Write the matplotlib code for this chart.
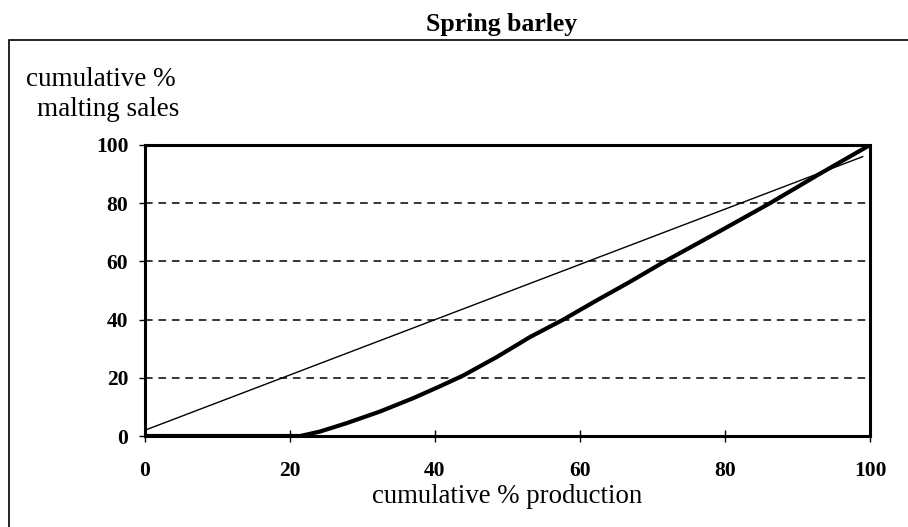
import numpy as np
import matplotlib.pyplot as plt
from matplotlib.patches import Rectangle

# cumulative % production vs cumulative % malting sales
production = [0, 21.4, 24.1, 27.8, 32.4, 37, 40.7, 43.9, 48.5, 53.1, 57.7,
              62.3, 66.9, 71.7, 79, 86.2, 93, 100]
sales = [0, 0, 1.5, 4.4, 8.4, 13, 17.1, 20.8, 27.1, 34, 40,
         46.6, 53, 60, 70, 80, 90, 100]

# thin reference line
ref_x = [0, 99]
ref_y = [2, 96]

ticks = [0, 20, 40, 60, 80, 100]

plt.rcParams['font.family'] = ['Liberation Serif', 'DejaVu Serif']

W, H = 908, 527
fig = plt.figure(figsize=(W / 100, H / 100), dpi=100)

# outer frame
fig.patches.append(Rectangle((9 / W, -0.05), 1.1, 1 - 40 / H + 0.05,
                             transform=fig.transFigure, fill=False,
                             edgecolor='black', linewidth=1.2))

ax = fig.add_axes([145 / W, 1 - 436 / H, 725 / W, 291 / H])

ax.plot(ref_x, ref_y, color='black', linewidth=1.0)
ax.plot(production, sales, color='black', linewidth=3.0,
        solid_capstyle='butt', solid_joinstyle='round')

ax.set_xlim(0, 100)
ax.set_ylim(0, 100)
ax.set_xticks(ticks)
ax.set_yticks(ticks)

ax.grid(axis='y', linestyle=(0, (5, 3.8)), color='black', linewidth=1.1)
ax.set_axisbelow(True)

for s in ax.spines.values():
    s.set_linewidth(2.2)

ax.tick_params(axis='y', direction='out', length=4, width=1, pad=8, labelsize=15.5)
ax.tick_params(axis='x', direction='inout', length=8, width=1, pad=14, labelsize=15.5)
for lab in ax.get_xticklabels() + ax.get_yticklabels():
    lab.set_fontweight('bold')

ax.set_xlabel('cumulative % production', fontsize=19.3, labelpad=2)

fig.text(502 / W, 1 - 25 / H, 'Spring barley', ha='center', va='center',
         fontsize=18.5, fontweight='bold')
fig.text(101 / W, 1 - 80 / H, 'cumulative %', ha='center', va='center', fontsize=19.5)
fig.text(108 / W, 1 - 110 / H, 'malting sales', ha='center', va='center', fontsize=19.5)

fig.savefig('out.png', dpi=100)
